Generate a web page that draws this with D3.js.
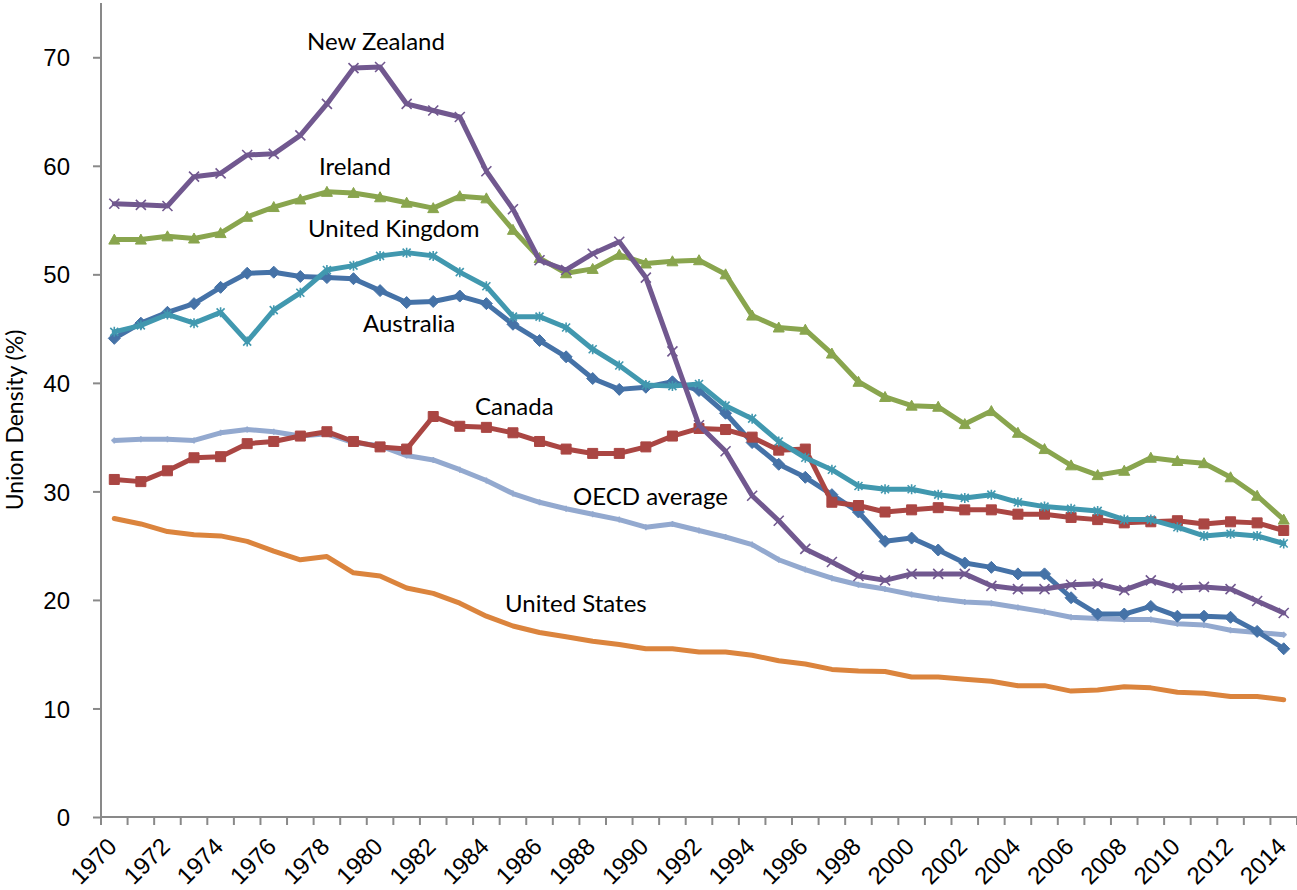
<!DOCTYPE html>
<html>
<head>
<meta charset="utf-8">
<script src="https://cdn.jsdelivr.net/npm/d3@7"></script>
<style>
  body { margin: 0; background: #fff; }
  svg { display: block; font-family: Lato, "Open Sans", sans-serif; }
  .axis path, .axis line { stroke: #898989; stroke-width: 2; }
  .axis text { font-size: 24px; fill: #000; }
</style>
</head>
<body>
<svg></svg>
<script>
const years = [1970, 1971, 1972, 1973, 1974, 1975, 1976, 1977, 1978, 1979,
               1980, 1981, 1982, 1983, 1984, 1985, 1986, 1987, 1988, 1989,
               1990, 1991, 1992, 1993, 1994, 1995, 1996, 1997, 1998, 1999,
               2000, 2001, 2002, 2003, 2004, 2005, 2006, 2007, 2008, 2009,
               2010, 2011, 2012, 2013, 2014];

const australia = [44.1, 45.5, 46.5, 47.3, 48.8, 50.1, 50.2, 49.8, 49.7, 49.6,
                   48.5, 47.4, 47.5, 48.0, 47.3, 45.4, 43.9, 42.4, 40.4, 39.4,
                   39.6, 40.1, 39.3, 37.2, 34.5, 32.5, 31.3, 29.7, 28.1, 25.4,
                   25.7, 24.6, 23.4, 23.0, 22.4, 22.4, 20.2, 18.7, 18.7, 19.4,
                   18.5, 18.5, 18.4, 17.1, 15.5];
const canada = [31.1, 30.9, 31.9, 33.1, 33.2, 34.4, 34.6, 35.1, 35.5, 34.6,
                34.1, 33.9, 36.9, 36.0, 35.9, 35.4, 34.6, 33.9, 33.5, 33.5,
                34.1, 35.1, 35.8, 35.7, 35.0, 33.8, 33.9, 29.0, 28.7, 28.1,
                28.3, 28.5, 28.3, 28.3, 27.9, 27.9, 27.6, 27.4, 27.1, 27.2,
                27.3, 27.0, 27.2, 27.1, 26.4];
const ireland = [53.2, 53.2, 53.5, 53.3, 53.8, 55.3, 56.2, 56.9, 57.6, 57.5,
                 57.1, 56.6, 56.1, 57.2, 57.0, 54.1, 51.5, 50.1, 50.5, 51.8,
                 51.0, 51.2, 51.3, 50.0, 46.2, 45.1, 44.9, 42.7, 40.1, 38.7,
                 37.9, 37.8, 36.2, 37.4, 35.4, 33.9, 32.4, 31.5, 31.9, 33.1,
                 32.8, 32.6, 31.3, 29.6, 27.4];
const newZealand = [56.5, 56.4, 56.3, 59.0, 59.3, 61.0, 61.1, 62.8, 65.7, 69.0,
                    69.1, 65.7, 65.1, 64.5, 59.5, 56.0, 51.3, 50.4, 51.9, 53.0,
                    49.7, 42.9, 36.1, 33.7, 29.6, 27.3, 24.7, 23.5, 22.2, 21.8,
                    22.4, 22.4, 22.4, 21.3, 21.0, 21.0, 21.4, 21.5, 20.9, 21.8,
                    21.1, 21.2, 21.0, 19.9, 18.8];
const unitedKingdom = [44.7, 45.3, 46.3, 45.5, 46.5, 43.8, 46.7, 48.3, 50.4, 50.8,
                       51.7, 52.0, 51.7, 50.2, 48.9, 46.1, 46.1, 45.1, 43.1, 41.6,
                       39.8, 39.7, 39.9, 37.9, 36.7, 34.6, 33.1, 32.0, 30.5, 30.2,
                       30.2, 29.7, 29.4, 29.7, 29.0, 28.6, 28.4, 28.2, 27.4, 27.4,
                       26.7, 25.9, 26.1, 25.9, 25.2];
const oecdAverage = [34.7, 34.8, 34.8, 34.7, 35.4, 35.7, 35.5, 35.1, 35.3, 34.5,
                     34.2, 33.3, 32.9, 32.0, 31.0, 29.8, 29.0, 28.4, 27.9, 27.4,
                     26.7, 27.0, 26.4, 25.8, 25.1, 23.7, 22.8, 22.0, 21.4, 21.0,
                     20.5, 20.1, 19.8, 19.7, 19.3, 18.9, 18.4, 18.3, 18.2, 18.2,
                     17.8, 17.7, 17.2, 17.0, 16.8];
const unitedStates = [27.5, 27.0, 26.3, 26.0, 25.9, 25.4, 24.5, 23.7, 24.0, 22.5,
                      22.2, 21.1, 20.6, 19.7, 18.5, 17.6, 17.0, 16.6, 16.2, 15.9,
                      15.5, 15.5, 15.2, 15.2, 14.9, 14.4, 14.1, 13.6, 13.45, 13.4,
                      12.9, 12.9, 12.7, 12.5, 12.1, 12.1, 11.6, 11.7, 12.0, 11.9,
                      11.5, 11.4, 11.1, 11.1, 10.8];

const yTicks = [0, 10, 20, 30, 40, 50, 60, 70];

// drawing order: later series sit on top
const series = [
  { name: 'United States', values: unitedStates, color: '#DB843D', marker: 'none' },
  { name: 'OECD average', values: oecdAverage, color: '#93A9CF', marker: 'plus' },
  { name: 'Australia', values: australia, color: '#4572A7', marker: 'diamond' },
  { name: 'Canada', values: canada, color: '#AA4643', marker: 'square' },
  { name: 'Ireland', values: ireland, color: '#89A54E', marker: 'triangle' },
  { name: 'United Kingdom', values: unitedKingdom, color: '#4198AF', marker: 'star' },
  { name: 'New Zealand', values: newZealand, color: '#71588F', marker: 'cross' }
];

// text label spots (pixels)
const labels = [
  { text: 'New Zealand', x: 307, y: 50 },
  { text: 'Ireland', x: 319, y: 175 },
  { text: 'United Kingdom', x: 308, y: 237 },
  { text: 'Australia', x: 363, y: 332 },
  { text: 'Canada', x: 475, y: 415 },
  { text: 'OECD average', x: 573, y: 505 },
  { text: 'United States', x: 505, y: 612 }
];

const width = 1297,
      height = 890,
      plotLeft = 101,
      plotRight = 1297,
      plotTop = 3,
      plotBottom = 817;

const $svg = d3.select('svg')
               .attr('width', width)
               .attr('height', height);

const x = d3.scaleBand()
            .domain(years)
            .range([plotLeft, plotRight])
            .padding(0);
const y = d3.scaleLinear()
            .domain([0, 75])
            .range([plotBottom, plotTop]);

const cx = (i) => x(years[i]) + x.bandwidth() / 2;

// y axis
const $yAxis = $svg.append('g')
  .attr('class', 'axis')
  .attr('transform', `translate(${plotLeft},0)`)
  .call(d3.axisLeft(y).tickValues(yTicks).tickSize(8).tickPadding(23).tickSizeOuter(0));
$yAxis.select('.domain').attr('d', `M0,${plotTop}V${plotBottom}`);
$yAxis.selectAll('text').attr('dy', '0.36em');

// x axis: labels on every other year, ticks between categories
const $xAxis = $svg.append('g')
  .attr('class', 'axis')
  .attr('transform', `translate(0,${plotBottom})`)
  .call(d3.axisBottom(x)
          .tickValues(years.filter((d, i) => i % 2 === 0))
          .tickSize(0)
          .tickSizeOuter(0));
$xAxis.select('.domain').attr('d', `M${plotLeft},0H${plotRight}`);
$xAxis.selectAll('text')
    .attr('x', 0)
    .attr('y', 0)
    .attr('dy', 0)
    .attr('text-anchor', 'end')
    .attr('transform', 'translate(4,31) rotate(-45)');

$xAxis.selectAll('.between')
  .data(years.concat([null]))
  .enter()
  .append('line')
    .attr('class', 'between')
    .attr('x1', (d, i) => plotLeft + i * x.bandwidth())
    .attr('x2', (d, i) => plotLeft + i * x.bandwidth())
    .attr('y1', 0)
    .attr('y2', 8);

// y axis title
$svg.append('text')
    .attr('transform', `translate(23,${(plotTop + plotBottom) / 2 + 10}) rotate(-90)`)
    .attr('text-anchor', 'middle')
    .style('font-size', '23px')
    .text('Union Density (%)');

const line = d3.line()
  .x((d, i) => cx(i))
  .y((d) => y(d));

function markerPath(type) {
  if (type === 'diamond') return 'M0,-6L6,0L0,6L-6,0Z';
  if (type === 'square') return 'M-5,-5H5V5H-5Z';
  if (type === 'triangle') return 'M0,-5.5L5.5,4.5H-5.5Z';
  if (type === 'cross') return 'M-5,-5L5,5M-5,5L5,-5';
  if (type === 'star') return 'M-4,-4L4,4M-4,4L4,-4M0,-5V5';
  if (type === 'plus') return 'M-3,0H3M0,-3V3';
  return '';
}

series.forEach((s) => {
  const $g = $svg.append('g').attr('class', 'series');

  $g.append('path')
      .datum(s.values)
      .attr('d', line)
      .attr('fill', 'none')
      .attr('stroke', s.color)
      .attr('stroke-width', 5)
      .attr('stroke-linejoin', 'round')
      .attr('stroke-linecap', 'round');

  if (s.marker === 'none') return;

  const filled = s.marker === 'diamond' || s.marker === 'square' || s.marker === 'triangle';

  $g.selectAll('.mark')
    .data(s.values)
    .enter()
    .append('path')
      .attr('class', 'mark')
      .attr('transform', (d, i) => `translate(${cx(i)},${y(d)})`)
      .attr('d', markerPath(s.marker))
      .attr('fill', filled ? s.color : 'none')
      .attr('stroke', s.color)
      .attr('stroke-width', filled ? 1 : 1.6);
});

$svg.selectAll('.label')
  .data(labels)
  .enter()
  .append('text')
    .attr('class', 'label')
    .attr('x', (d) => d.x)
    .attr('y', (d) => d.y)
    .style('font-size', '24px')
    .text((d) => d.text);
</script>
</body>
</html>
